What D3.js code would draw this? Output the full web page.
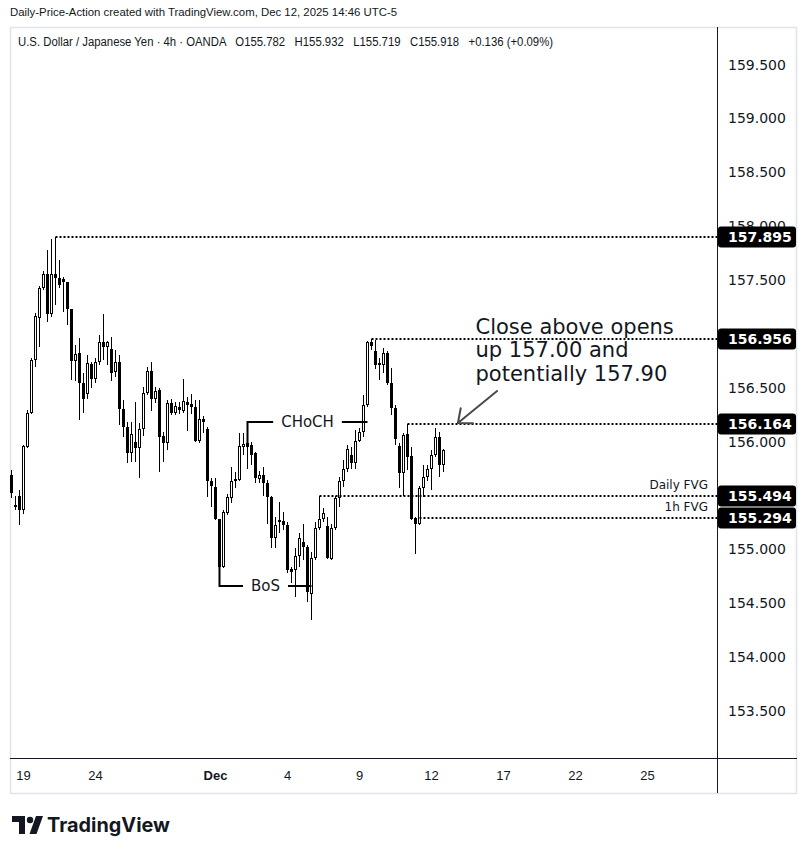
<!DOCTYPE html>
<html>
<head>
<meta charset="utf-8">
<script src="https://cdn.jsdelivr.net/npm/d3@7/dist/d3.min.js"></script>
<style>
  body { margin: 0; background: #fff; }
  svg { display: block; }
</style>
</head>
<body>
<div id="chart"></div>
<script>
// USDJPY 4h candles (OANDA), oldest first
const opens = [155.69,155.41,155.50,155.37,155.95,156.27,156.76,157.15,157.43,157.56,
  157.18,157.56,157.52,157.51,157.48,157.23,156.75,156.82,156.54,156.44,
  156.72,156.58,156.74,156.92,156.88,156.86,156.65,156.74,156.30,156.14,
  155.89,156.00,155.94,156.12,156.45,156.66,156.40,156.48,156.05,155.99,
  156.36,156.27,156.32,156.28,156.37,156.35,156.32,156.01,156.21,156.12,
  155.63,155.58,155.28,154.84,155.34,155.48,155.63,155.64,155.95,155.99,
  155.97,155.89,155.65,155.69,155.62,155.49,155.11,155.25,155.26,155.23,
  154.82,154.81,154.94,155.07,155.02,154.59,154.92,155.20,155.28,155.22,
  154.91,155.20,155.48,155.63,155.75,155.88,155.80,156.01,156.09,156.34,
  156.92,156.84,156.72,156.71,156.82,156.54,156.31,155.96,155.71,156.07,
  155.87,155.29,155.24,155.57,155.67,155.75,155.88,156.04,155.782];
const highs = [155.74,155.50,155.55,155.97,156.29,156.78,157.19,157.44,157.58,157.78,
  157.88,157.895,157.69,157.53,157.48,157.23,156.90,156.96,156.64,156.80,
  156.74,156.78,156.99,157.18,156.93,156.97,156.85,156.80,156.39,156.18,
  156.18,156.37,156.17,156.51,156.69,156.74,156.51,156.50,156.09,156.39,
  156.40,156.37,156.37,156.58,156.41,156.44,156.39,156.39,156.24,156.14,
  155.66,155.66,155.28,155.37,155.51,155.76,155.72,156.08,156.08,156.08,
  156.00,155.90,155.73,155.76,155.64,155.50,155.30,155.44,155.35,155.25,
  154.84,155.01,155.15,155.24,155.04,154.98,155.25,155.494,155.38,155.30,
  155.24,155.50,155.67,155.83,155.97,155.95,156.11,156.13,156.43,156.93,
  156.956,156.94,156.78,156.87,156.84,156.68,156.34,155.99,156.08,156.164,
  155.95,155.30,155.59,155.78,155.78,155.92,156.13,156.09,155.932];
const lows = [155.48,155.37,155.23,155.33,155.94,156.26,156.69,156.88,157.41,157.11,
  157.16,157.27,157.43,157.20,157.08,156.57,156.56,156.20,156.27,156.40,
  156.50,156.54,156.71,156.76,156.71,156.56,156.60,156.15,156.04,155.80,
  155.81,155.81,155.66,156.05,156.43,156.28,156.36,155.72,155.81,155.92,
  156.25,156.25,156.26,156.27,156.10,156.26,156.00,155.99,156.08,155.49,
  155.39,155.27,154.83,154.83,155.32,155.43,155.57,155.63,155.88,155.75,
  155.78,155.62,155.62,155.50,155.24,155.01,155.01,155.15,155.18,154.78,
  154.69,154.56,154.84,154.90,154.51,154.34,154.90,155.18,155.25,154.91,
  154.90,155.18,155.39,155.58,155.72,155.75,155.75,156.00,156.04,156.32,
  156.85,156.67,156.57,156.64,156.53,156.25,155.97,155.57,155.50,155.74,
  155.27,154.96,155.23,155.49,155.63,155.55,155.86,155.67,155.719];
const closes = [155.52,155.39,155.37,155.96,156.27,156.76,157.17,157.43,157.56,157.18,
  157.56,157.52,157.45,157.48,157.23,156.75,156.81,156.54,156.40,156.73,
  156.58,156.74,156.92,156.88,156.92,156.64,156.74,156.30,156.14,155.89,
  156.07,155.94,156.12,156.45,156.66,156.40,156.47,156.04,155.99,156.36,
  156.27,156.33,156.29,156.38,156.34,156.32,156.01,156.21,156.18,155.63,
  155.59,155.28,154.84,155.35,155.49,155.63,155.65,155.96,155.98,155.95,
  155.88,155.66,155.69,155.62,155.49,155.11,155.23,155.27,155.23,154.81,
  154.79,154.94,155.11,155.02,154.60,154.92,155.20,155.28,155.34,154.92,
  155.20,155.48,155.63,155.75,155.93,155.80,156.01,156.09,156.34,156.92,
  156.89,156.71,156.73,156.82,156.54,156.31,156.02,155.71,156.06,155.86,
  155.28,155.24,155.57,155.67,155.75,155.88,156.04,155.78,155.918];

// horizontal levels drawn on the chart and the bar each one starts from
const levelPrices = [157.895, 156.956, 156.164, 155.494, 155.294];
const levelStartBars = [11, 90, 99, 77, 102];
const fvgNames = ["Daily FVG", "1h FVG"];
const fvgPrices = [155.494, 155.294];

// price axis ticks and day labels (bar index of each day start)
const priceTicks = d3.range(153.5, 159.51, 0.5);
const dayTickBars = [3, 21, 51, 69, 87, 105, 123, 141, 159];
const dayTickLabels = ["19", "24", "Dec", "4", "9", "12", "17", "22", "25"];

// structure annotations
const choch = {price: 156.18, from: 59, to: 89};
const bos = {price: 154.66, from: 52, to: 75};
const noteLines = ["Close above opens", "up 157.00 and", "potentially 157.90"];

const width = 805;
const height = 854;
const plot = {left: 10, right: 717, top: 27, bottom: 758};
const ink = "#131722";
const sans = "'DejaVu Sans', Verdana, sans-serif";
const arial = "'Liberation Sans', Arial, sans-serif";

const x = d3.scaleLinear()
    .domain([-0.375, 176.375])
    .range([plot.left, plot.right]);

const y = d3.scaleLinear()
    .domain([153.5, 159.5])
    .range([711, 64.5]);

const svg = d3.select("#chart").append("svg")
    .attr("width", width)
    .attr("height", height)
    .attr("viewBox", [0, 0, width, height]);

svg.append("rect").attr("width", width).attr("height", height).attr("fill", "#fff");

svg.append("clipPath").attr("id", "plotclip")
  .append("rect")
    .attr("x", plot.left).attr("y", plot.top)
    .attr("width", plot.right - plot.left).attr("height", plot.bottom - plot.top);

// header texts
svg.append("text")
    .attr("x", 10).attr("y", 16)
    .attr("font-family", arial).attr("font-size", 11).attr("fill", ink)
    .attr("textLength", 387).attr("lengthAdjust", "spacingAndGlyphs")
    .text("Daily-Price-Action created with TradingView.com, Dec 12, 2025 14:46 UTC-5");

svg.append("text")
    .attr("x", 18).attr("y", 46)
    .attr("font-family", arial).attr("font-size", 12).attr("fill", ink)
    .attr("textLength", 535).attr("lengthAdjust", "spacingAndGlyphs")
    .attr("xml:space", "preserve")
    .text("U.S. Dollar / Japanese Yen \u00b7 4h \u00b7 OANDA   O155.782   H155.932   L155.719   C155.918   +0.136 (+0.09%)");

// frame
svg.append("rect")
    .attr("x", 10.5).attr("y", 27.5).attr("width", 786).attr("height", 766)
    .attr("fill", "none").attr("stroke", "#e0e3eb").attr("stroke-width", 1.5);

const g = svg.append("g").attr("clip-path", "url(#plotclip)");

// candles
const bars = g.append("g").attr("shape-rendering", "crispEdges");
opens.forEach((o, i) => {
  const c = closes[i];
  const cx = x(i);
  bars.append("line")
      .attr("x1", cx).attr("x2", cx)
      .attr("y1", Math.round(y(highs[i]))).attr("y2", Math.round(y(lows[i])))
      .attr("stroke", "#000").attr("stroke-width", 1);
  const top = Math.round(y(Math.max(o, c)));
  const bot = Math.round(y(Math.min(o, c)));
  if (c >= o) {
    bars.append("rect")
        .attr("x", cx - 1).attr("y", top + 0.5)
        .attr("width", 2).attr("height", Math.max(1, bot - top - 1))
        .attr("fill", "#fff").attr("stroke", "#000").attr("stroke-width", 1);
  } else {
    bars.append("rect")
        .attr("x", cx - 1.5).attr("y", top)
        .attr("width", 3).attr("height", Math.max(1, bot - top))
        .attr("fill", "#000");
  }
});

// dotted levels
levelPrices.forEach((p, i) => {
  const ly = Math.round(y(p));
  g.append("line")
      .attr("x1", x(levelStartBars[i])).attr("x2", plot.right)
      .attr("y1", ly).attr("y2", ly)
      .attr("stroke", "#000").attr("stroke-width", 2)
      .attr("stroke-dasharray", "2 2");
});

fvgNames.forEach((name, i) => {
  g.append("text")
      .attr("x", plot.right - 9).attr("y", y(fvgPrices[i]) - 7)
      .attr("text-anchor", "end")
      .attr("font-family", sans).attr("font-size", 12).attr("fill", ink)
      .text(name);
});

// bracket annotation helper: line at a level with a label in its middle
function bracket(a, label, startPrice) {
  const ly = Math.round(y(a.price));
  const x0 = x(a.from), x1 = x(a.to);
  const t = g.append("text")
      .attr("x", (x0 + x1) / 2).attr("y", ly).attr("dy", "0.36em")
      .attr("text-anchor", "middle")
      .attr("font-family", sans).attr("font-size", 15).attr("fill", ink)
      .text(label);
  const tw = t.node().getComputedTextLength();
  const mid = (x0 + x1) / 2;
  g.append("path")
      .attr("d", `M${x0},${Math.round(y(startPrice))}V${ly}H${mid - tw / 2 - 8}`)
      .attr("fill", "none").attr("stroke", "#000").attr("stroke-width", 2);
  g.append("line")
      .attr("x1", mid + tw / 2 + 8).attr("x2", x1)
      .attr("y1", ly).attr("y2", ly)
      .attr("stroke", "#000").attr("stroke-width", 2);
}
bracket(choch, "CHoCH", opens[choch.from]);
bracket(bos, "BoS", closes[bos.from]);

// note with arrow
const note = g.append("text")
    .attr("font-family", sans).attr("font-size", 21).attr("fill", ink);
noteLines.forEach((line, i) => {
  note.append("tspan")
      .attr("x", x(116)).attr("y", y(157.0) + i * 23.5)
      .text(line);
});

const tail = [x(121.4), y(156.47)];
const tip = [x(111.6), y(156.164) - 1];
const ang = Math.atan2(tail[1] - tip[1], tail[0] - tip[0]);
const arm = 15, spread = 40 * Math.PI / 180;
g.append("path")
    .attr("d", `M${tail[0]},${tail[1]}L${tip[0]},${tip[1]}` +
      `M${tip[0] + arm * Math.cos(ang - spread)},${tip[1] + arm * Math.sin(ang - spread)}` +
      `L${tip[0]},${tip[1]}` +
      `L${tip[0] + arm * Math.cos(ang + spread)},${tip[1] + arm * Math.sin(ang + spread)}`)
    .attr("fill", "none").attr("stroke", "#4a4a4a").attr("stroke-width", 2)
    .attr("stroke-linecap", "round");

// axes separators
svg.append("line")
    .attr("x1", plot.right + 0.5).attr("x2", plot.right + 0.5)
    .attr("y1", 27).attr("y2", 793)
    .attr("stroke", ink).attr("stroke-width", 1);
svg.append("line")
    .attr("x1", plot.left).attr("x2", 797)
    .attr("y1", plot.bottom + 0.5).attr("y2", plot.bottom + 0.5)
    .attr("stroke", ink).attr("stroke-width", 1);

// price axis labels; ticks sitting right under a level label are hidden, as on the chart
const visibleTicks = priceTicks.filter(t =>
  levelPrices.every(p => Math.abs(y(t) - y(p)) > 8));
const yAxis = svg.append("g");
yAxis.selectAll("text")
  .data(visibleTicks)
  .join("text")
    .attr("x", 728).attr("y", d => y(d)).attr("dy", "0.36em")
    .attr("font-family", sans).attr("font-size", 14).attr("fill", ink)
    .text(d3.format(".3f"));

// price labels of the levels
const boxes = svg.append("g");
levelPrices.forEach(p => {
  const ly = Math.round(y(p));
  boxes.append("rect")
      .attr("x", 718).attr("y", ly - 10.5)
      .attr("width", 78).attr("height", 21).attr("rx", 3)
      .attr("fill", "#000");
  boxes.append("text")
      .attr("x", 728).attr("y", ly).attr("dy", "0.36em")
      .attr("font-family", sans).attr("font-size", 14).attr("font-weight", 600)
      .attr("fill", "#fff")
      .text(d3.format(".3f")(p));
});

// time axis labels
svg.append("g").selectAll("text")
  .data(dayTickBars)
  .join("text")
    .attr("x", d => x(d)).attr("y", 775).attr("dy", "0.36em")
    .attr("text-anchor", "middle")
    .attr("font-family", arial).attr("font-size", 13).attr("fill", ink)
    .attr("font-weight", (d, i) => dayTickLabels[i] === "Dec" ? 700 : 400)
    .text((d, i) => dayTickLabels[i]);

// TradingView logo
const logo = svg.append("g").attr("fill", ink);
logo.append("path").attr("d", "M12,816H25V834H19V822H12Z");
logo.append("circle").attr("cx", 30).attr("cy", 820).attr("r", 3.2);
logo.append("path").attr("d", "M36,816H43L36.5,834H29.5Z");
logo.append("text")
    .attr("x", 47).attr("y", 832)
    .attr("font-family", "Inter, 'Noto Sans', sans-serif").attr("font-size", 20)
    .attr("font-weight", 700)
    .attr("textLength", 123).attr("lengthAdjust", "spacingAndGlyphs")
    .text("TradingView");
</script>
</body>
</html>
